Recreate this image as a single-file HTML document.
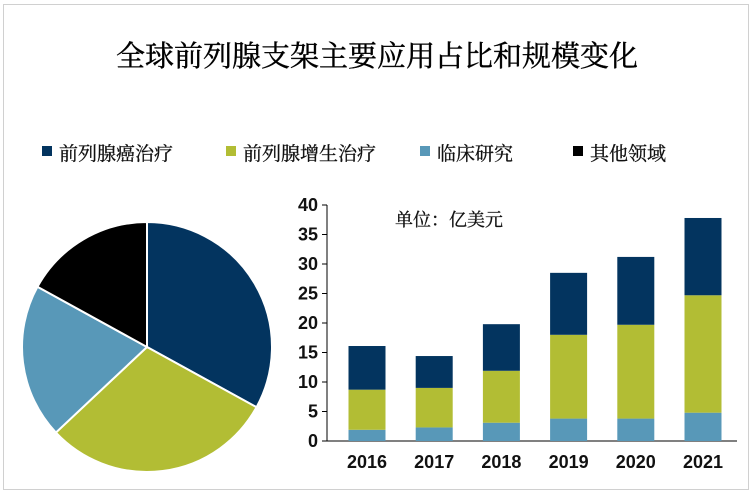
<!DOCTYPE html>
<html><head><meta charset="utf-8"><style>
body{margin:0;background:#fff;}
#wrap{position:relative;width:753px;height:493px;overflow:hidden;font-family:"Liberation Serif","Noto Serif CJK SC",serif;}
#frame{position:absolute;left:3px;top:4px;width:744px;height:484px;border:1px solid #d0d0d0;}
</style></head><body>
<div id="wrap">
<div id="frame"></div>
<svg id="svg" width="753" height="493" style="position:absolute;left:0;top:0">
<text x="377" y="66" text-anchor="middle" font-size="29" fill="#000" stroke="#000" stroke-width="0.4" font-family="Liberation Serif,Noto Serif CJK SC,serif">全球前列腺支架主要应用占比和规模变化</text>
<g id="legend"></g>
<g id="pie"></g>
<g id="bars"></g>
<text x="395" y="226" font-size="18" fill="#111" stroke="#111" stroke-width="0.3" font-family="Liberation Serif,Noto Serif CJK SC,serif">单位：亿美元</text>
</svg>
</div>
<script>
const seriesNames=["前列腺癌治疗","前列腺增生治疗","临床研究","其他领域"];
const colors=["#03345f","#b2bd34","#5898b8","#000000"];
const pieShares=[33,30,20,17];
const years=["2016","2017","2018","2019","2020","2021"];
const clinical=[1.9,2.3,3.1,3.8,3.8,4.8];
const hyperplasia=[6.8,6.7,8.8,14.2,15.9,19.9];
const cancer=[7.4,5.4,7.9,10.5,11.5,13.1];
const yTicks=[0,5,10,15,20,25,30,35,40];
const NS="http://www.w3.org/2000/svg";
function mk(t,a,p){const e=document.createElementNS(NS,t);for(const k in a)e.setAttribute(k,a[k]);p.appendChild(e);return e;}
const lg=document.getElementById('legend');
const lx=[42,226,420,573];
seriesNames.forEach((n,i)=>{
 const r=mk('rect',{x:lx[i],y:146,width:10,height:10,fill:colors[i]},lg);
 
 
 const t=mk('text',{x:lx[i]+17,y:160,'font-size':19,fill:'#111',stroke:'#111','stroke-width':0.3},lg);
 t.textContent=n;
 
 
});
const pg=document.getElementById('pie');
const cx=147,cy=347,R=125;
const tot=pieShares.reduce((a,b)=>a+b,0);
let a0=0;
pieShares.forEach((v,i)=>{
 const a1=a0+v/tot*2*Math.PI;
 const x0=cx+R*Math.sin(a0),y0=cy-R*Math.cos(a0),x1=cx+R*Math.sin(a1),y1=cy-R*Math.cos(a1);
 const p=mk('path',{d:`M${cx},${cy}L${x0},${y0}A${R},${R} 0 ${a1-a0>Math.PI?1:0} 1 ${x1},${y1}Z`,fill:colors[i],stroke:'#fff','stroke-width':2},pg);
 
 
 a0=a1;
});
const bg=document.getElementById('bars');
const x0=327,x1=737,yb=441,yt=205,ymax=40;
const ys=v=>yb-(v/ymax)*(yb-yt);
const band=67.2;
const xc=i=>x0+40+band*i;
const bw=37;
mk('line',{x1:x0,y1:yt,x2:x0,y2:yb,stroke:'#000','stroke-width':1},bg);
mk('line',{x1:x0,y1:yb,x2:x1,y2:yb,stroke:'#000','stroke-width':1},bg);
yTicks.forEach(v=>{
 mk('line',{x1:x0-5,y1:ys(v),x2:x0,y2:ys(v),stroke:'#000'},bg);
 const t=mk('text',{x:x0-9,y:ys(v)+6,'text-anchor':'end','font-size':18,'font-weight':'bold','font-family':'Liberation Sans,sans-serif',fill:'#111'},bg);
 t.textContent=v;
 
 
});
const stack=[clinical,hyperplasia,cancer];
const sc=[colors[2],colors[1],colors[0]];
years.forEach((y,i)=>{
 let base=0;
 stack.forEach((s,k)=>{
  const r=mk('rect',{x:xc(i)-bw/2,y:ys(base+s[i]),width:bw,height:ys(base)-ys(base+s[i]),fill:sc[k]},bg);
  
  
  base+=s[i];
 });
 const t=mk('text',{x:xc(i),y:468,'text-anchor':'middle','font-size':18,'font-weight':'bold','font-family':'Liberation Sans,sans-serif',fill:'#111'},bg);
 t.textContent=y;
 
 
});
</script>
</body></html>
